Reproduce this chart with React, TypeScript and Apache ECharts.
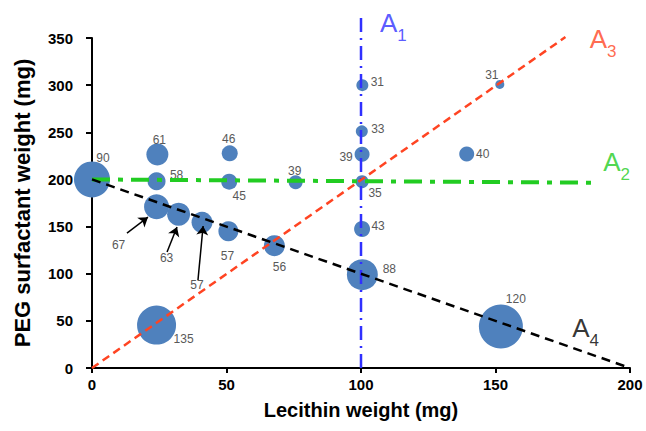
import React, { useEffect, useRef } from "react";
import * as echarts from "echarts";

// Bubble data
const lecithin = [0, 24.3, 24, 24, 32.2, 40.9, 51.2, 51, 50.7, 75.7, 67.8, 100.5, 100.3, 100.4, 100.4, 100.4, 100.5, 151.6, 139.3, 24, 152];
const peg = [200, 226.5, 198, 171, 163, 154.5, 227.7, 197.6, 145, 197, 129.7, 300, 251, 226.6, 197.6, 147.4, 99, 300.8, 227, 45.5, 44];
const particleSize = [90, 61, 58, 67, 63, 57, 46, 45, 57, 39, 56, 31, 33, 39, 35, 43, 88, 31, 40, 135, 120];
const bubbleDiameter = [36, 22, 18, 25, 23, 21, 16, 16, 20, 14, 21, 12, 12, 15, 13, 16, 31, 9, 15, 39, 44];
const labelOffsets: number[][] = [
  [11, -21], [2, -14], [20, -6], [-38, 38], [-12, 44], [-5, 63], [-1, -14], [10, 14], [-1, 25], [-1, -11],
  [5, 21], [15, -3], [16, -2], [-16, 3], [13, 11], [16, -3], [27, -6], [-8, -9], [16, 0], [27, 14], [15, -28],
];

// Trend lines
const lineA1 = [[100, 0], [100, 377]];
const lineA2 = [[0, 200], [188, 196.5]];
const lineA3 = [[0, 0], [176, 351]];
const lineA4 = [[0, 200], [200, 0]];

// Line name labels (data coordinates)
const lineNames = ["1", "2", "3", "4"];
const lineNameX = [112, 195, 190, 183.5];
const lineNameY = [366, 219, 349, 42];
const lineColors = ["#3030ff", "#22cc22", "#ff4422", "#000000"];

// Arrows pointing to bubbles (data coordinates)
const arrows = [
  [[13, 143], [20.8, 160]],
  [[27.9, 123], [31.6, 149.5]],
  [[39.4, 93.3], [41.3, 150.6]],
];

const xTicks = [0, 50, 100, 150, 200];
const yTicks = [0, 50, 100, 150, 200, 250, 300, 350];

const FONT = "'Liberation Sans', Arial, sans-serif";

export default function App() {
  const ref = useRef<HTMLDivElement>(null);
  useEffect(() => {
    if (!ref.current) return;
    const chart = echarts.init(ref.current, null, { renderer: "svg" });
    const bubbles = lecithin.map((x, i) => ({
      value: [x, peg[i], particleSize[i], bubbleDiameter[i]],
      label: { offset: labelOffsets[i] },
    }));
    const mkLine = (d: number[][], color: string, type: any, width: number) => ({
      type: "line",
      data: d,
      symbol: "none",
      clip: false,
      silent: true,
      z: 3,
      lineStyle: { color, type, width, cap: "butt" },
    });
    chart.setOption({
      animation: false,
      backgroundColor: "#fff",
      grid: { left: 92, right: 16, top: 38, bottom: 63 },
      xAxis: {
        type: "value",
        min: xTicks[0],
        max: xTicks[xTicks.length - 1],
        interval: 50,
        name: "Lecithin weight (mg)",
        nameLocation: "middle",
        nameGap: 32,
        nameTextStyle: { fontFamily: FONT, fontWeight: "bold", fontSize: 20, color: "#000" },
        axisLine: { show: true, lineStyle: { color: "#000", width: 2 } },
        axisTick: { show: true, length: 5, lineStyle: { color: "#000", width: 2 } },
        axisLabel: { fontFamily: FONT, fontWeight: "bold", fontSize: 15, color: "#000", margin: 9 },
        splitLine: { show: false },
      },
      yAxis: {
        type: "value",
        min: yTicks[0],
        max: yTicks[yTicks.length - 1],
        interval: 50,
        name: "PEG surfactant weight (mg)",
        nameLocation: "middle",
        nameGap: 59,
        nameTextStyle: { fontFamily: FONT, fontWeight: "bold", fontSize: 22, color: "#000" },
        axisLine: { show: true, lineStyle: { color: "#000", width: 2 } },
        axisTick: { show: true, length: 6, lineStyle: { color: "#000", width: 2 } },
        axisLabel: { fontFamily: FONT, fontWeight: "bold", fontSize: 15, color: "#000", margin: 19 },
        splitLine: { show: false },
      },
      series: [
        {
          type: "scatter",
          data: bubbles,
          symbolSize: (v: number[]) => v[3],
          itemStyle: { color: "#4f81bd", opacity: 1 },
          z: 2,
          label: {
            show: true,
            position: "inside",
            formatter: (p: any) => String(p.value[2]),
            fontFamily: FONT,
            fontSize: 12,
            color: "#595959",
            align: "center",
            verticalAlign: "middle",
          },
        },
        mkLine(lineA1, lineColors[0], [14, 6, 2, 6], 2.5),
        mkLine(lineA2, lineColors[1], [18, 8, 5, 8], 4),
        mkLine(lineA3, lineColors[2], [8, 5], 2.5),
        mkLine(lineA4, lineColors[3], [9, 6], 2.5),
        {
          type: "lines",
          coordinateSystem: "cartesian2d",
          data: arrows.map((a) => ({ coords: a })),
          symbol: ["none", "arrow"],
          symbolSize: [0, 9],
          silent: true,
          z: 4,
          lineStyle: { color: "#000", width: 1.5, opacity: 1 },
        },
        {
          type: "scatter",
          symbolSize: 0,
          silent: true,
          clip: false,
          z: 5,
          data: lineNames.map((n, i) => ({
            value: [lineNameX[i], lineNameY[i]],
            label: {
              show: true,
              position: "inside",
              formatter: `{m|A}{s|${n}}`,
              rich: {
                m: { fontFamily: FONT, fontSize: 26, color: lineColors[i], verticalAlign: "bottom" },
                s: { fontFamily: FONT, fontSize: 17, color: lineColors[i], verticalAlign: "bottom", padding: [0, 0, -8, 0] },
              },
            },
          })),
        },
      ],
    });
    return () => chart.dispose();
  }, []);
  return (
    <div
      ref={ref}
      style={{ position: "fixed", left: 0, top: 0, width: 646, height: 431, background: "#fff" }}
    />
  );
}
